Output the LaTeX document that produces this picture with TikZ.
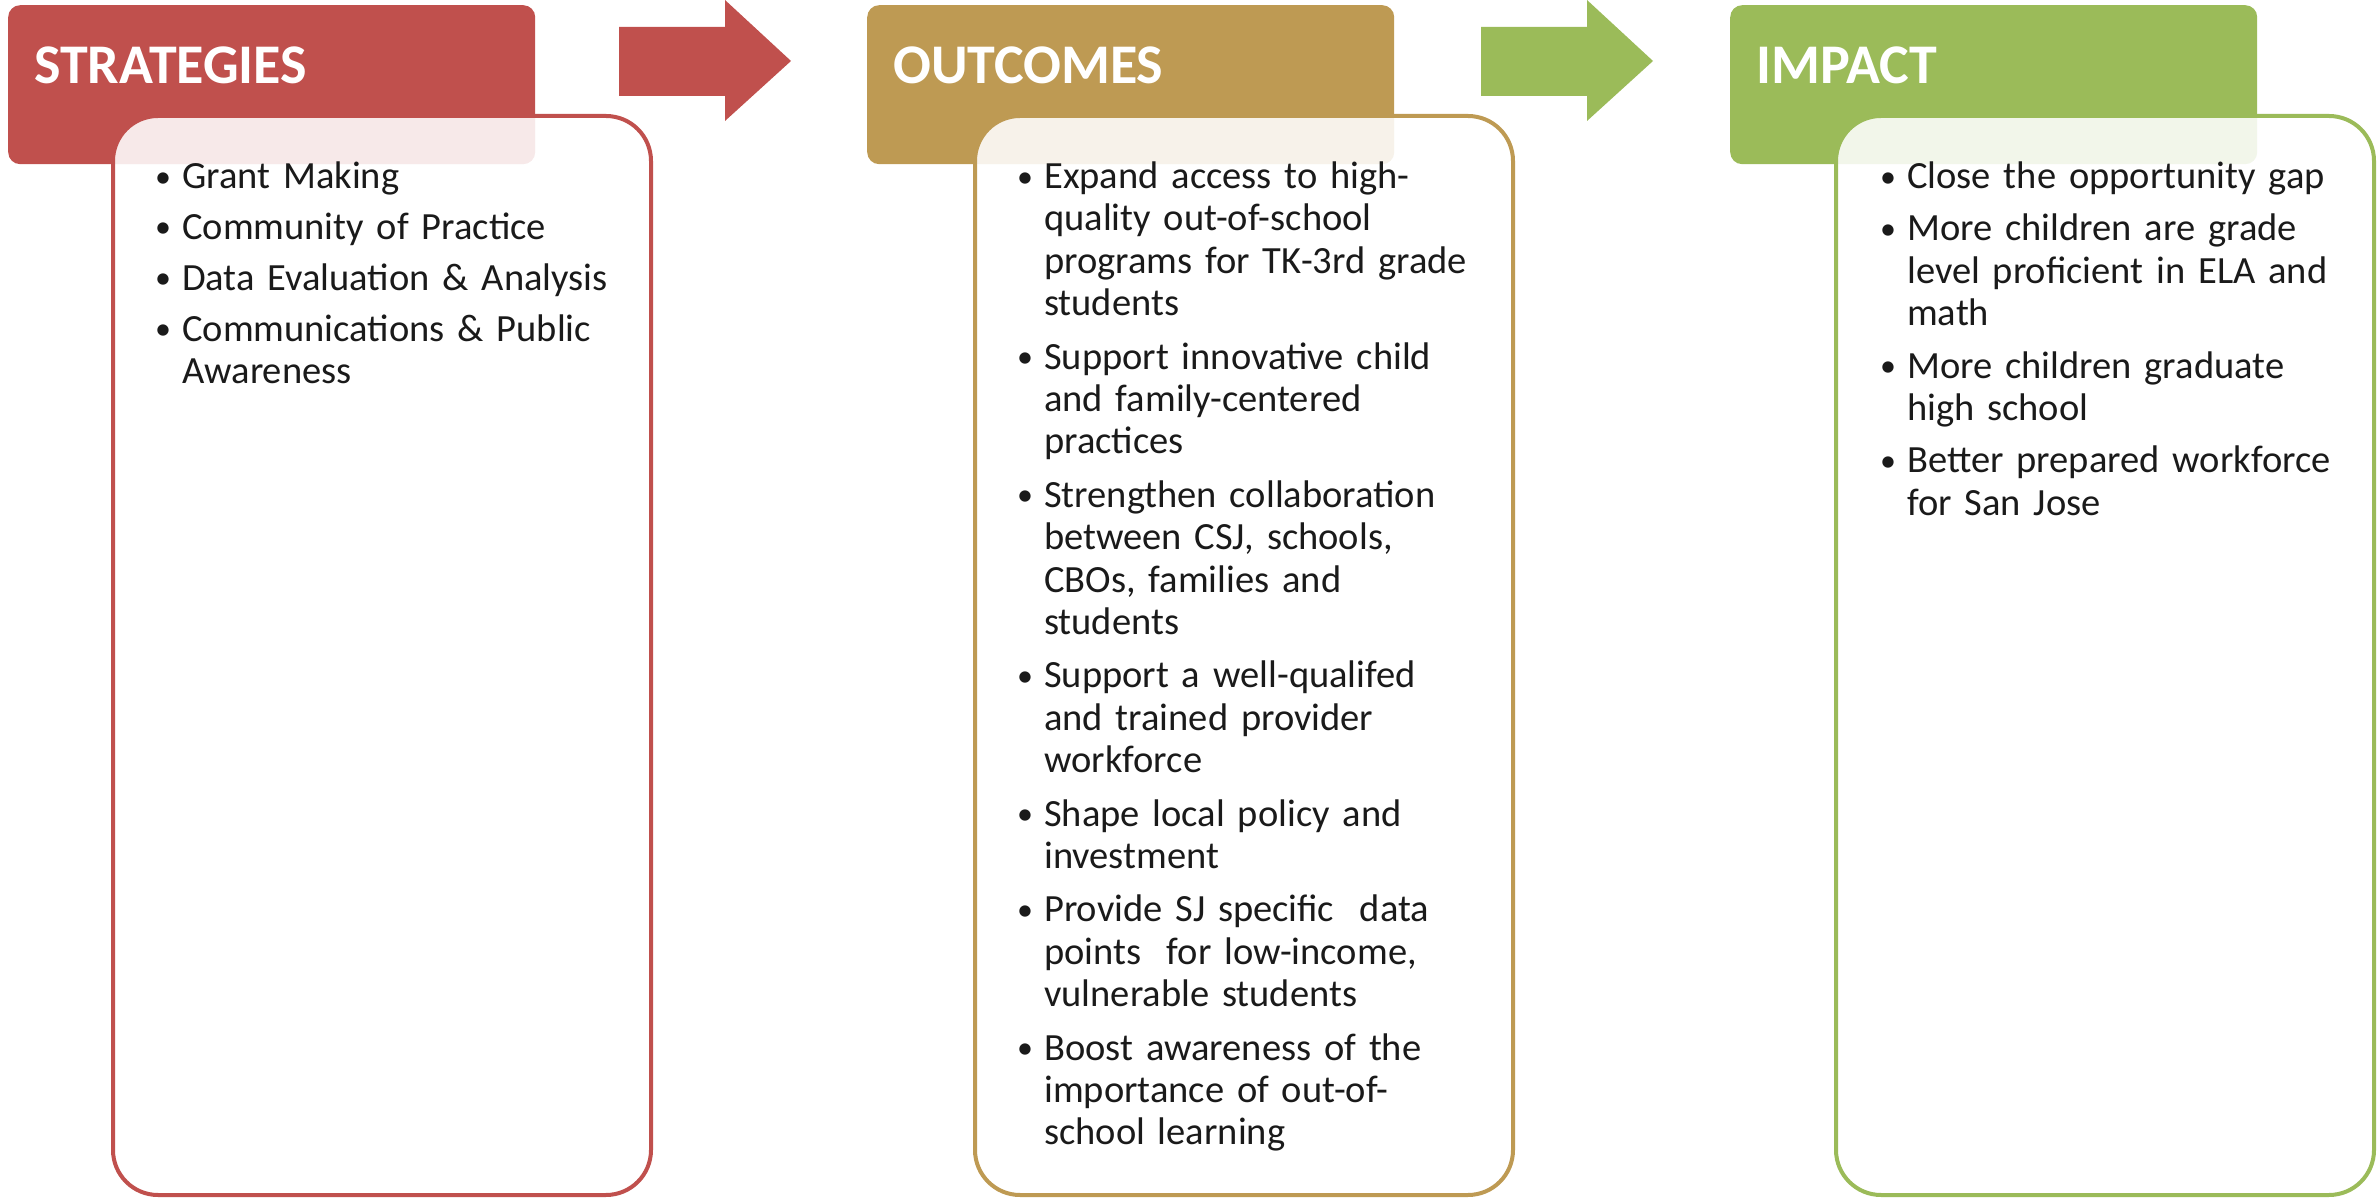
\documentclass[tikz,border=0pt]{standalone}
\usepackage{fontspec}
\setmainfont{Carlito}
\definecolor{cred}{HTML}{C0504D}
\definecolor{cgold}{HTML}{BE9A53}
\definecolor{cgreen}{HTML}{9BBB59}
\definecolor{ctext}{HTML}{1A1A1A}
\newcommand\listsetup{\rightskip=0pt plus 1fil\relax\parindent=0pt\relax}
\newcommand\bul{\makebox[27pt][l]{\raisebox{1.5pt}{\fontsize{32pt}{32pt}\selectfont\textbullet}}}
\newcommand\itm[2][11pt]{\par\noindent\hangindent=27pt\relax\hangafter=1\relax\bul#2\par\vspace{#1}}
\newcommand\nl{\newline}
\tikzset{
  hdr/.style={rounded corners=12pt, anchor=north west, minimum width=527pt, minimum height=159pt, inner sep=0pt},
  hdrtext/.style={anchor=base west, text=white, inner sep=0pt, font=\fontsize{56pt}{64pt}\selectfont\bfseries},
  bodybox/.style={rounded corners=45pt, anchor=north west, line width=4pt, fill=white, fill opacity=0.88, minimum width=538pt, minimum height=1079pt, inner sep=0pt},
  listtext/.style={anchor=north west, inner sep=0pt, text width=520pt, text=ctext, font=\fontsize{38.5pt}{42.4pt}\selectfont},
}
\begin{document}
\begin{tikzpicture}[x=1pt,y=1pt]
\useasboundingbox (0,0) rectangle (2377,1197);
% headers
\node[hdr, fill=cred] (h1) at (8,1192) {};
\node[hdr, fill=cgold] (h2) at (867,1192) {};
\node[hdr, fill=cgreen] (h3) at (1730,1192) {};
\node[hdrtext] (t1) at (34,1113) {STRATEGIES};
\node[hdrtext] (t2) at (893,1113) {OUTCOMES};
\node[hdrtext] (t3) at (1756,1113) {IMPACT};
% arrows
\fill[cred] (619,1170) -- (725,1170) -- (725,1197) -- (791,1136) -- (725,1076) -- (725,1101) -- (619,1101) -- cycle;
\fill[cgreen] (1481,1170) -- (1587,1170) -- (1587,1197) -- (1653,1136) -- (1587,1076) -- (1587,1101) -- (1481,1101) -- cycle;
% bodies
\node[bodybox, draw=cred] (b1) at (111,1083) {};
\node[bodybox, draw=cgold] (b2) at (973,1083) {};
\node[bodybox, draw=cgreen] (b3) at (1834,1083) {};
% lists
\node[listtext] (l1) at (155,1051) {\listsetup
\itm[8.5pt]{Grant Making}
\itm[8.5pt]{Community of Practice}
\itm[8.5pt]{Data Evaluation \& Analysis}
\itm[8.5pt]{Communications \& Public\nl Awareness}};
\node[listtext] (l2) at (1017,1051) {\listsetup
\itm{Expand access to high-\nl quality out-of-school\nl programs for TK-3rd grade\nl students}
\itm{Support innovative child\nl and family-centered\nl practices}
\itm{Strengthen collaboration\nl between CSJ, schools,\nl CBOs, families and\nl students}
\itm{Support a well-qualifed\nl and trained provider\nl workforce}
\itm{Shape local policy and\nl investment}
\itm{Provide SJ specific~ data\nl points~ for low-income,\nl vulnerable students}
\itm{Boost awareness of the\nl importance of out-of-\nl school learning}};
\node[listtext] (l3) at (1880,1051) {\listsetup
\itm[10pt]{Close the opportunity gap}
\itm[10pt]{More children are grade\nl level proficient in ELA and\nl math}
\itm[10pt]{More children graduate\nl high school}
\itm[10pt]{Better prepared workforce\nl for San Jose}};
\end{tikzpicture}
\end{document}
